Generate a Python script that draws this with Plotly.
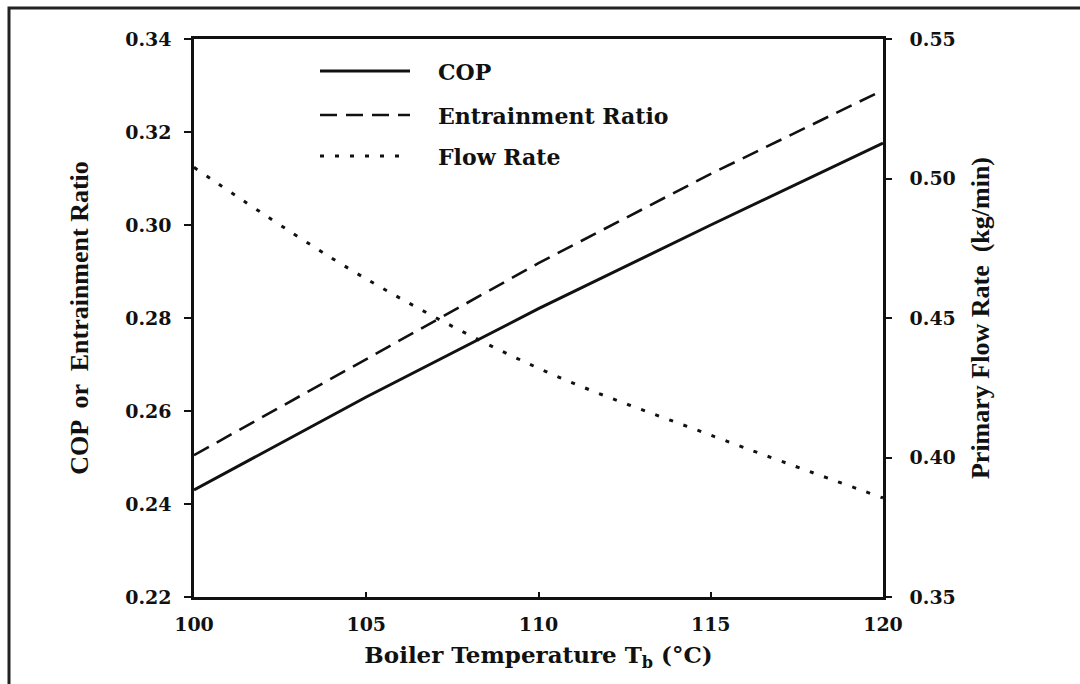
import plotly.graph_objects as go

# Data
temps = [100, 105, 110, 115, 120]
cop = [0.243, 0.263, 0.282, 0.300, 0.3176]
entrainment = [0.2505, 0.2712, 0.2918, 0.311, 0.329]
flow_rate = [0.504, 0.464, 0.432, 0.408, 0.3855]

x_ticks = [100, 105, 110, 115, 120]
y_ticks = [0.22, 0.24, 0.26, 0.28, 0.30, 0.32, 0.34]
y2_ticks = [0.35, 0.40, 0.45, 0.50, 0.55]

legend_names = ["COP", "Entrainment Ratio", "Flow Rate"]
legend_dashes = ["solid", "17px,9px", "4px,11px"]

W, H = 1080, 684
L, R, T, B = 194, 197, 39, 87
pw, ph = W - L - R, H - T - B

def px(x):
    return (x - L) / pw

def py(y):
    return (H - B - y) / ph

tick_font = dict(family="DejaVu Serif", size=19, color="#111", weight="bold")
title_font = dict(family="Liberation Serif", size=26, color="#111", weight="bold")

fig = go.Figure()
fig.add_trace(go.Scatter(x=temps, y=cop, mode="lines", name=legend_names[0],
                         line=dict(color="#111", width=3, dash=legend_dashes[0])))
fig.add_trace(go.Scatter(x=temps, y=entrainment, mode="lines", name=legend_names[1],
                         line=dict(color="#111", width=2.6, dash=legend_dashes[1])))
fig.add_trace(go.Scatter(x=temps, y=flow_rate, mode="lines", name=legend_names[2], yaxis="y2",
                         line=dict(color="#111", width=3, dash=legend_dashes[2], shape="spline")))

shapes = []
annotations = []
rows_y = [71, 115, 156]
for name, dash, ry in zip(legend_names, legend_dashes, rows_y):
    shapes.append(dict(type="line", xref="paper", yref="paper",
                       x0=px(320), x1=px(410), y0=py(ry), y1=py(ry),
                       line=dict(color="#111", width=3 if dash != "17px,9px" else 2.6, dash=dash)))
    annotations.append(dict(xref="paper", yref="paper", x=px(436), y=py(ry + 1),
                            xanchor="left", yanchor="middle", text=name, showarrow=False,
                            font=dict(family="DejaVu Serif", size=22, color="#111", weight="bold")))

# outer frame of the picture
shapes.append(dict(type="rect", xref="paper", yref="paper",
                   x0=px(9), x1=px(1100), y0=py(700), y1=py(8),
                   line=dict(color="#222", width=3)))

fig.update_layout(
    width=W, height=H,
    margin=dict(l=L, r=R, t=T, b=B),
    paper_bgcolor="white", plot_bgcolor="white",
    showlegend=False,
    shapes=shapes, annotations=annotations,
    xaxis=dict(range=[100, 120], tickvals=x_ticks, ticktext=[str(v) for v in x_ticks],
               showline=True, linecolor="#111", linewidth=2.5, mirror=True,
               ticks="inside", ticklen=5, tickwidth=1.5, tickcolor="#111",
               showgrid=False, zeroline=False, tickfont=tick_font, ticklabelstandoff=8,
               title=dict(text="Boiler Temperature T<sub>b</sub> (°C)", standoff=14,
                          font=dict(family="DejaVu Serif", size=23, color="#111", weight="bold"))),
    yaxis=dict(range=[0.22, 0.34], tickvals=y_ticks, ticktext=[f"{v:.2f}" for v in y_ticks],
               showline=True, linecolor="#111", linewidth=2.5,
               ticks="outside", ticklen=7, tickwidth=1.5, tickcolor="#111",
               showgrid=False, zeroline=False, tickfont=tick_font, ticklabelstandoff=9,
               title=dict(text="COP  or  Entrainment Ratio", standoff=30, font=title_font)),
    yaxis2=dict(range=[0.35, 0.55], tickvals=y2_ticks, ticktext=[f"{v:.2f}" for v in y2_ticks],
                overlaying="y", side="right",
                showline=True, linecolor="#111", linewidth=2.5,
                ticks="outside", ticklen=6, tickwidth=1.5, tickcolor="#111",
                showgrid=False, zeroline=False, tickfont=tick_font, ticklabelstandoff=14,
                title=dict(text="Primary Flow Rate  (kg/min)", standoff=16, font=title_font)),
)

fig.write_html("out.html")
